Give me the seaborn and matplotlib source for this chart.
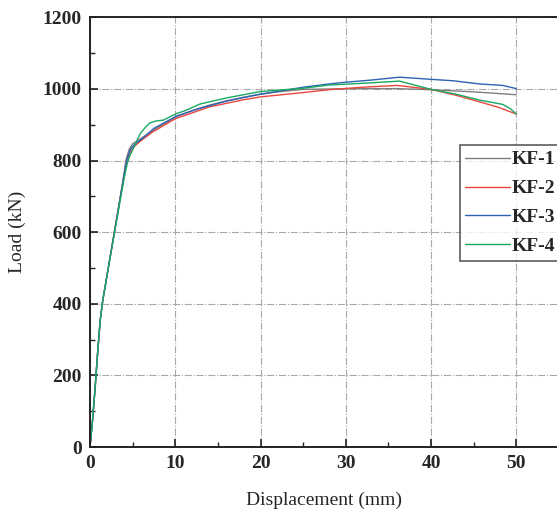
import numpy as np
import pandas as pd
import matplotlib
matplotlib.use("Agg")
import matplotlib.pyplot as plt
from matplotlib.ticker import MultipleLocator
import seaborn as sns

# Load–displacement curves of the four specimens
kf1_disp = [0, 0.3, 0.6, 0.9, 1.2, 1.5, 2.0, 2.5, 3.0, 3.5, 4.0, 4.2, 4.6, 5.0, 6.0, 7.0, 8.0,
            10, 12, 14, 16, 18, 20, 22, 25, 28, 32, 36, 40, 45, 50]
kf1_load = [0, 75, 165, 265, 355, 410, 480, 550, 620, 690, 765, 800, 832, 847, 862, 878, 893,
            921, 940, 955, 967, 977, 985, 992, 999, 1000, 1001, 1001, 998, 992, 984]

kf2_disp = [0, 0.3, 0.6, 0.9, 1.2, 1.5, 2.0, 2.5, 3.0, 3.5, 4.0, 4.3, 4.7, 5.2, 6.0, 7.4, 8.0,
            10, 14, 18, 20, 25, 28, 32, 36, 40, 43, 46, 48, 50]
kf2_load = [0, 75, 165, 265, 355, 410, 480, 550, 620, 690, 760, 800, 823, 840, 856, 881, 889,
            917, 950, 970, 978, 990, 998, 1005, 1010, 999, 982, 962, 948, 930]

kf3_disp = [0, 0.3, 0.6, 0.9, 1.2, 1.5, 2.0, 2.5, 3.0, 3.5, 4.0, 4.3, 4.7, 5.2, 5.9, 7.5, 10.2,
            12.9, 16, 20, 22, 25, 28, 30, 33, 36.3, 40, 42.6, 45.7, 48.4, 50]
kf3_load = [0, 75, 165, 265, 355, 410, 480, 550, 620, 690, 760, 800, 830, 845, 857, 890, 925,
            946, 966, 986, 993, 1005, 1014, 1019, 1025, 1033, 1027, 1023, 1014, 1010, 1001]

kf4_disp = [0, 0.3, 0.6, 0.9, 1.2, 1.5, 2.0, 2.5, 3.0, 3.5, 4.0, 4.4, 4.7, 5.3, 5.9, 6.5, 7.0,
            7.8, 8.6, 10.2, 11.1, 12.9, 16, 20, 25, 28, 32, 36.3, 40, 43, 45.7, 48.4, 49.3, 50]
kf4_load = [0, 75, 165, 265, 355, 410, 480, 548, 615, 683, 750, 795, 815, 845, 876, 893, 905,
            911, 913, 932, 939, 958, 975, 993, 1002, 1011, 1016, 1022, 999, 985, 969, 957, 945, 930]

specimens = ["KF-1", "KF-2", "KF-3", "KF-4"]
colors = ["#7f7f7f", "#e8463c", "#2d62b5", "#19a862"]

frames = []
for name, d, p in zip(specimens,
                      [kf1_disp, kf2_disp, kf3_disp, kf4_disp],
                      [kf1_load, kf2_load, kf3_load, kf4_load]):
    frames.append(pd.DataFrame({"Displacement": d, "Load": p, "Specimen": name}))
df = pd.concat(frames, ignore_index=True)

sns.set_theme(style="ticks")
plt.rcParams["font.family"] = ["Liberation Serif", "DejaVu Serif"]

W, H = 557, 518
fig = plt.figure(figsize=(W / 100, H / 100), dpi=100)
ax = fig.add_axes([90 / W, (H - 447) / H, 469 / W, 429.6 / H])

sns.lineplot(data=df, x="Displacement", y="Load", hue="Specimen", hue_order=specimens,
             palette=colors, sort=False, estimator=None, linewidth=1.0, ax=ax)

ax.set_xlim(0, 55)
ax.set_ylim(0, 1200)
ax.xaxis.set_major_locator(MultipleLocator(10))
ax.xaxis.set_minor_locator(MultipleLocator(5))
ax.yaxis.set_major_locator(MultipleLocator(200))
ax.yaxis.set_minor_locator(MultipleLocator(100))

ax.grid(True, which="major", color="#a8a8a8", linestyle="-.", linewidth=0.8)
ax.set_axisbelow(True)

for side in ["left", "bottom", "top", "right"]:
    ax.spines[side].set_linewidth(1.4)
    ax.spines[side].set_color("#222222")

ax.tick_params(which="major", direction="in", length=6, width=1.2, color="#222222",
               labelsize=14, pad=6)
ax.tick_params(which="minor", direction="in", length=3.5, width=1.0, color="#222222")
ax.tick_params(top=False, right=False, which="both")
for lab in ax.get_xticklabels() + ax.get_yticklabels():
    lab.set_fontweight("bold")

ax.set_xlabel("Displacement (mm)", fontsize=14, labelpad=14)
ax.set_ylabel("Load (kN)", fontsize=14, labelpad=12)

sns.move_legend(ax, loc="upper left", bbox_to_anchor=(0.789, 0.702), borderaxespad=0,
                title=None, frameon=True, fancybox=False, handlelength=2.27,
                handletextpad=0.1, labelspacing=0.58, borderpad=0.28,
                prop={"family": "Liberation Serif", "weight": "bold", "size": 14})
leg = ax.get_legend()
leg.get_frame().set_edgecolor("#333333")
leg.get_frame().set_linewidth(1.2)
for line in leg.get_lines():
    line.set_linewidth(1.0)

fig.savefig("out.png", dpi=100)
